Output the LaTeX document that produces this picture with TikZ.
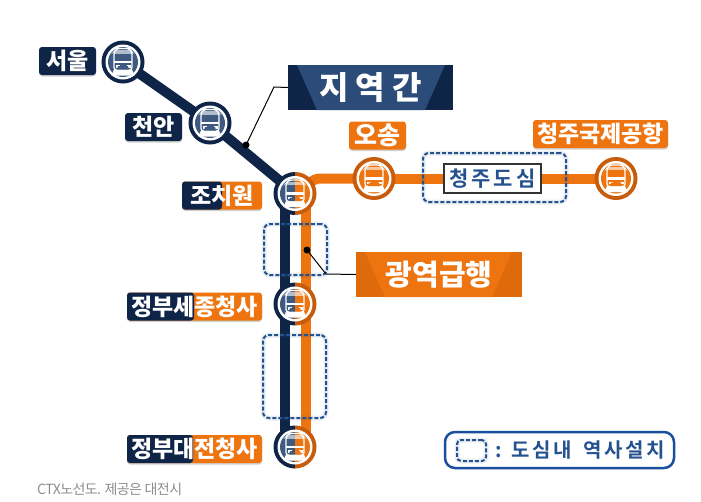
\documentclass[tikz,border=0pt]{standalone}
\usepackage{fontspec}
\setmainfont{Noto Sans CJK KR}[BoldFont=* Bold]
\newfontfamily\krheavy{Noto Sans CJK KR}[UprightFont=* Black]
\usetikzlibrary{shadows,calc}
\definecolor{ctxnavy}{HTML}{0F2547}
\definecolor{ctxblue}{HTML}{2B4B78}
\definecolor{ctxface}{HTML}{3E5A80}
\definecolor{ctxorange}{HTML}{EE7410}
\definecolor{ctxdeep}{HTML}{C65C0C}
\definecolor{ctxband}{HTML}{DF6A0C}
\definecolor{ctxdash}{HTML}{23528F}
\definecolor{ctxlegend}{HTML}{1A4E9E}
\tikzset{
    station/.style={circle, minimum size=42pt, inner sep=0pt},
    tag/.style={rounded corners=3pt, text=white, font=\krheavy\fontsize{23}{23}\selectfont, inner sep=0pt, minimum height=28pt,
        drop shadow={shadow xshift=0pt, shadow yshift=-1.5pt, fill=black!18, opacity=1}},
    navytag/.style={tag, fill=ctxnavy},
    orangetag/.style={tag, fill=ctxorange},
    splittag/.style={tag, fill=ctxorange, path picture={\fill[ctxnavy] (path picture bounding box.south west) rectangle ([xshift=#1]path picture bounding box.north west);}},
    navyline/.style={draw=ctxnavy, line width=10pt},
    orangeline/.style={draw=ctxorange, line width=10pt},
    dashbox/.style={rounded corners=6pt, draw=ctxdash, line width=2pt, dash pattern=on 4pt off 2pt,
        preaction={draw=ctxdash, draw opacity=.1, line width=5pt, solid}},
    leader/.style={draw=black, line width=1pt},
    leaderdot/.style={circle, fill=black, inner sep=0pt, minimum size=7pt}
}
% name, ring left, ring right, face left, face right
\newcommand{\trainicon}[5]{
    \begin{scope}[shift={(#1.center)}]
        \begin{scope}
            \clip (-24,-24) rectangle (0,24);
            \fill[#2] (0,0) circle (21.5);
            \fill[white] (0,0) circle (17.5);
            \fill[#4] (0,0) circle (15);
        \end{scope}
        \begin{scope}
            \clip (0,-24) rectangle (24,24);
            \fill[#3] (0,0) circle (21.5);
            \fill[white] (0,0) circle (17.5);
            \fill[#5] (0,0) circle (15);
        \end{scope}
        \draw[white, line width=1.3pt, rounded corners=2.5pt] (-9,8) -- (-9,-10) -- (-6,-13.5) -- (6,-13.5) -- (9,-10) -- (9,8) -- cycle;
        \fill[white, opacity=.6] (-8,-12) rectangle (8,-8.5);
        \fill[white] (-9,-1.5) rectangle (9,1);
        \fill[white] (-7.5,3) rectangle (-3.5,5.5);
        \fill[white] (3.5,3) rectangle (7.5,5.5);
        \fill[white] (-9,7.5) -- (9,7.5) -- (11.5,13.5) -- (-11.5,13.5) -- cycle;
        \fill[#4] (-5,4) -- (0,4) -- (0,7.5) -- (-6,7.5) -- cycle;
        \fill[#5] (0,4) -- (5,4) -- (6,7.5) -- (0,7.5) -- cycle;
    \end{scope}
}
\begin{document}
\begin{tikzpicture}[x=1pt, y=-1pt]
    \useasboundingbox (0,0) rectangle (701,501);
    \node[station] at (123,62) (seoul) {};
    \node[station] at (210,123) (cheonan) {};
    \node[station] at (295,193.5) (jochiwon) {};
    \node[station] at (374,178.5) (osong) {};
    \node[station] at (616,178.5) (airport) {};
    \node[station] at (295,304) (sejong) {};
    \node[station] at (295,447) (daejeon) {};

    \draw[navyline] (seoul.center) -- (cheonan.center) -- (jochiwon.center);
    \draw[navyline] ([xshift=-10pt]jochiwon.center) -- ([xshift=-10pt]daejeon.center);
    \draw[orangeline] ([xshift=10.5pt]jochiwon.center) -- ([xshift=10.5pt]daejeon.center);
    \draw[orangeline, rounded corners=15pt] ([xshift=10.5pt]jochiwon.center) |- (osong.center);
    \draw[orangeline] (osong.center) -- (airport.center);

    \trainicon{seoul}{ctxnavy}{ctxnavy}{ctxface}{ctxface}
    \trainicon{cheonan}{ctxnavy}{ctxnavy}{ctxface}{ctxface}
    \trainicon{jochiwon}{ctxnavy}{ctxdeep}{ctxface}{ctxorange}
    \trainicon{sejong}{ctxnavy}{ctxdeep}{ctxface}{ctxorange}
    \trainicon{daejeon}{ctxnavy}{ctxdeep}{ctxface}{ctxorange}
    \trainicon{osong}{ctxdeep}{ctxdeep}{ctxorange}{ctxorange}
    \trainicon{airport}{ctxdeep}{ctxdeep}{ctxorange}{ctxorange}

    \node[navytag, minimum width=57pt] at (67.5,61) (seoultag) {서울};
    \node[navytag, minimum width=57pt] at (153.5,127) (cheonantag) {천안};
    \node[splittag=40pt, minimum width=80pt] at (222,195.5) (jochiwontag) {조치원};
    \node[orangetag, minimum width=57pt] at (377.5,135.5) (osongtag) {\fontsize{25}{25}\selectfont 오송};
    \node[orangetag, minimum width=135pt] at (600.5,134) (airporttag) {청주국제공항};
    \node[splittag=67pt, minimum width=135pt] at (194.5,306.5) (sejongtag) {정부세종청사};
    \node[splittag=66pt, minimum width=135pt] at (194.5,449) (daejeontag) {정부대전청사};

    \node[dashbox, minimum width=63pt, minimum height=51pt] at (295.5,249.5) (upperbox) {};
    \node[dashbox, minimum width=63pt, minimum height=83pt] at (294.5,376.5) (lowerbox) {};
    \node[dashbox, minimum width=143pt, minimum height=49pt] at (494.5,177.5) (citybox) {};
    \node[draw=black!80, line width=1.5pt, fill=white, text=ctxdash, minimum width=97pt, minimum height=29pt, inner sep=0pt, font=\bfseries\fontsize{21}{21}\selectfont] at (492.5,178.5) (citytag) {\addfontfeature{LetterSpace=14}청주도심};

    \path[fill=ctxnavy] (288,65) rectangle (453,110);
    \path[fill=ctxblue] (297,65) -- (445,65) -- (425,110) -- (317,110) -- cycle;
    \node[text=white, font=\krheavy\fontsize{32}{32}\selectfont, minimum width=165pt, minimum height=45pt, inner sep=0pt] at (370.5,87.5) (regionband) {지 역 간};
    \path[fill=ctxband] (356,252) rectangle (522,297);
    \path[fill=ctxorange] (365,252) -- (512,252) -- (492,297) -- (385,297) -- cycle;
    \node[text=white, font=\krheavy\fontsize{29}{29}\selectfont, minimum width=166pt, minimum height=45pt, inner sep=0pt] at (439,274.5) (expressband) {광역급행};

    \node[leaderdot] at (246,145) (regiondot) {};
    \node[leaderdot] at (307,250) (expressdot) {};
    \draw[leader] (regiondot.center) -- (274,87) -- (regionband.west);
    \draw[leader] (expressdot.center) -- (326,274) -- (expressband.west);

    \node[rounded corners=10pt, draw=ctxlegend, line width=2.5pt, minimum width=229pt, minimum height=36pt] at (559.5,450) (legend) {};
    \node[dashbox, rounded corners=4pt, minimum width=29pt, minimum height=21pt] at (471.5,450.5) (legendbox) {};
    \node[anchor=west, text=ctxdash, inner sep=0pt, font=\bfseries\fontsize{20}{20}\selectfont] at (495,450) (legendtext) {\addfontfeature{LetterSpace=12}:\hspace{10pt}도심내\hspace{12pt}역사설치};

    \node[anchor=west, text=black!45, inner sep=0pt, font=\fontsize{14}{14}\selectfont] at (37,489) (caption) {\addfontfeature{LetterSpace=-4}CTX노선도. 제공은 대전시};
\end{tikzpicture}
\end{document}
